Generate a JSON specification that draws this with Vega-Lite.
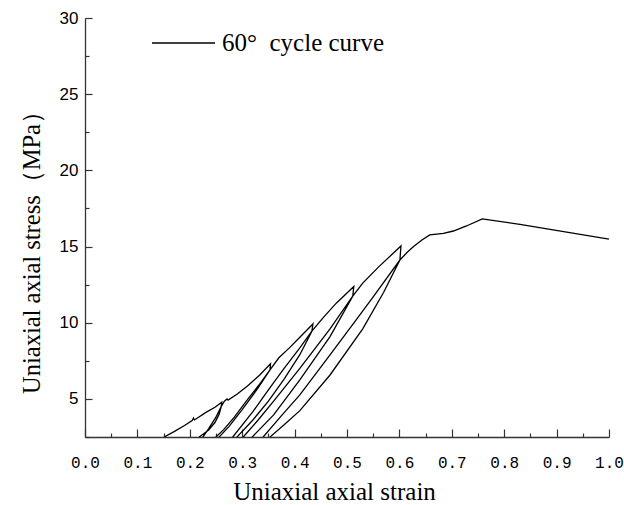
{
  "$schema": "https://vega.github.io/schema/vega-lite/v6.json",
  "width": 524,
  "height": 419,
  "autosize": "none",
  "padding": {"left": 85, "top": 18, "right": 15, "bottom": 68},
  "background": "white",
  "config": {"view": {"stroke": null}},
  "data": {"values": [
    {"i": 1, "strain": 0.151, "stress": 2.5},
    {"i": 2, "strain": 0.17, "stress": 2.85},
    {"i": 3, "strain": 0.19, "stress": 3.25},
    {"i": 4, "strain": 0.205, "stress": 3.6},
    {"i": 5, "strain": 0.207, "stress": 3.75},
    {"i": 6, "strain": 0.209, "stress": 3.62},
    {"i": 7, "strain": 0.23, "stress": 4.1},
    {"i": 8, "strain": 0.248, "stress": 4.45},
    {"i": 9, "strain": 0.261, "stress": 4.78},
    {"i": 10, "strain": 0.26, "stress": 4.5},
    {"i": 11, "strain": 0.256, "stress": 4.0},
    {"i": 12, "strain": 0.248, "stress": 3.45},
    {"i": 13, "strain": 0.236, "stress": 2.95},
    {"i": 14, "strain": 0.218, "stress": 2.5},
    {"i": 15, "strain": 0.221, "stress": 1.5},
    {"i": 16, "strain": 0.225, "stress": 2.5},
    {"i": 17, "strain": 0.236, "stress": 3.05},
    {"i": 18, "strain": 0.249, "stress": 3.75},
    {"i": 19, "strain": 0.26, "stress": 4.5},
    {"i": 20, "strain": 0.266, "stress": 4.85},
    {"i": 21, "strain": 0.271, "stress": 5.0},
    {"i": 22, "strain": 0.273, "stress": 4.92},
    {"i": 23, "strain": 0.29, "stress": 5.3},
    {"i": 24, "strain": 0.31, "stress": 5.85},
    {"i": 25, "strain": 0.333, "stress": 6.55},
    {"i": 26, "strain": 0.354, "stress": 7.3},
    {"i": 27, "strain": 0.353, "stress": 6.9},
    {"i": 28, "strain": 0.335, "stress": 6.05},
    {"i": 29, "strain": 0.31, "stress": 4.95},
    {"i": 30, "strain": 0.285, "stress": 3.8},
    {"i": 31, "strain": 0.265, "stress": 3.0},
    {"i": 32, "strain": 0.25, "stress": 2.5},
    {"i": 33, "strain": 0.253, "stress": 1.5},
    {"i": 34, "strain": 0.256, "stress": 2.5},
    {"i": 35, "strain": 0.275, "stress": 3.2},
    {"i": 36, "strain": 0.3, "stress": 4.3},
    {"i": 37, "strain": 0.33, "stress": 5.7},
    {"i": 38, "strain": 0.353, "stress": 6.9},
    {"i": 39, "strain": 0.37, "stress": 7.7},
    {"i": 40, "strain": 0.39, "stress": 8.35},
    {"i": 41, "strain": 0.41, "stress": 9.05},
    {"i": 42, "strain": 0.435, "stress": 9.92},
    {"i": 43, "strain": 0.433, "stress": 9.45},
    {"i": 44, "strain": 0.41, "stress": 8.35},
    {"i": 45, "strain": 0.38, "stress": 7.0},
    {"i": 46, "strain": 0.35, "stress": 5.6},
    {"i": 47, "strain": 0.32, "stress": 4.15},
    {"i": 48, "strain": 0.282, "stress": 2.5},
    {"i": 49, "strain": 0.286, "stress": 1.5},
    {"i": 50, "strain": 0.29, "stress": 2.5},
    {"i": 51, "strain": 0.32, "stress": 3.6},
    {"i": 52, "strain": 0.35, "stress": 4.85},
    {"i": 53, "strain": 0.38, "stress": 6.3},
    {"i": 54, "strain": 0.41, "stress": 7.9},
    {"i": 55, "strain": 0.433, "stress": 9.45},
    {"i": 56, "strain": 0.455, "stress": 10.35},
    {"i": 57, "strain": 0.48, "stress": 11.3},
    {"i": 58, "strain": 0.513, "stress": 12.38},
    {"i": 59, "strain": 0.511, "stress": 11.75},
    {"i": 60, "strain": 0.4676, "stress": 9.6},
    {"i": 61, "strain": 0.41, "stress": 7.0},
    {"i": 62, "strain": 0.36, "stress": 4.85},
    {"i": 63, "strain": 0.33, "stress": 3.6},
    {"i": 64, "strain": 0.302, "stress": 2.5},
    {"i": 65, "strain": 0.31, "stress": 1.5},
    {"i": 66, "strain": 0.319, "stress": 2.5},
    {"i": 67, "strain": 0.36, "stress": 3.95},
    {"i": 68, "strain": 0.41, "stress": 6.25},
    {"i": 69, "strain": 0.4676, "stress": 9.09},
    {"i": 70, "strain": 0.511, "stress": 11.75},
    {"i": 71, "strain": 0.53, "stress": 12.6},
    {"i": 72, "strain": 0.56, "stress": 13.65},
    {"i": 73, "strain": 0.603, "stress": 15.04},
    {"i": 74, "strain": 0.601, "stress": 14.12},
    {"i": 75, "strain": 0.55, "stress": 11.7},
    {"i": 76, "strain": 0.515, "stress": 10.07},
    {"i": 77, "strain": 0.4676, "stress": 7.89},
    {"i": 78, "strain": 0.41, "stress": 5.26},
    {"i": 79, "strain": 0.375, "stress": 3.9},
    {"i": 80, "strain": 0.34, "stress": 2.5},
    {"i": 81, "strain": 0.346, "stress": 1.5},
    {"i": 82, "strain": 0.353, "stress": 2.5},
    {"i": 83, "strain": 0.38, "stress": 3.3},
    {"i": 84, "strain": 0.41, "stress": 4.23},
    {"i": 85, "strain": 0.4676, "stress": 6.57},
    {"i": 86, "strain": 0.53, "stress": 9.6},
    {"i": 87, "strain": 0.57, "stress": 12.0},
    {"i": 88, "strain": 0.601, "stress": 14.12},
    {"i": 89, "strain": 0.615, "stress": 14.62},
    {"i": 90, "strain": 0.627, "stress": 15.0},
    {"i": 91, "strain": 0.643, "stress": 15.43},
    {"i": 92, "strain": 0.658, "stress": 15.76},
    {"i": 93, "strain": 0.684, "stress": 15.87},
    {"i": 94, "strain": 0.703, "stress": 16.02},
    {"i": 95, "strain": 0.728, "stress": 16.35},
    {"i": 96, "strain": 0.758, "stress": 16.81},
    {"i": 97, "strain": 0.83, "stress": 16.46},
    {"i": 98, "strain": 1.0, "stress": 15.48}
  ]},
  "mark": {"type": "line", "clip": true, "strokeWidth": 1.3},
  "encoding": {
    "x": {
      "field": "strain", "type": "quantitative",
      "scale": {"domain": [0, 1], "nice": false, "zero": false},
      "axis": {
        "title": "Uniaxial axial strain",
        "values": [0, 0.05, 0.1, 0.15, 0.2, 0.25, 0.3, 0.35, 0.4, 0.45, 0.5, 0.55, 0.6, 0.65, 0.7, 0.75, 0.8, 0.85, 0.9, 0.95, 1],
        "labelExpr": "round(datum.value*20)%2==0 ? format(datum.value, '.1f') : ''",
        "grid": false,
        "domainColor": "#333", "tickColor": "#333", "domainWidth": 1.3, "tickWidth": 1.2,
        "tickSize": {"condition": {"test": "round(datum.value*20)%2==0", "value": -8}, "value": -4},
        "labelPadding": 25,
        "labelFont": "Liberation Mono", "labelFontSize": 16, "labelColor": "#000",
        "labelFlush": false, "labelOverlap": false,
        "titleFont": "Liberation Serif", "titleFontSize": 25, "titleFontWeight": "normal", "titleColor": "#000",
        "titleBaseline": "alphabetic", "titleY": 62, "titleX": 249
      }
    },
    "y": {
      "field": "stress", "type": "quantitative",
      "scale": {"domain": [2.5, 30], "nice": false, "zero": false},
      "axis": {
        "title": "Uniaxial axial stress（MPa）",
        "values": [2.5, 5, 7.5, 10, 12.5, 15, 17.5, 20, 22.5, 25, 27.5, 30],
        "labelExpr": "datum.value % 5 == 0 ? format(datum.value, 'd') : ''",
        "grid": false,
        "domainColor": "#333", "tickColor": "#333", "domainWidth": 1.3, "tickWidth": 1.2,
        "tickSize": {"condition": {"test": "datum.value % 5 == 0", "value": -7}, "value": -4},
        "labelPadding": 14,
        "labelFont": "Liberation Sans", "labelFontSize": 17, "labelColor": "#000",
        "labelFlush": false, "labelOverlap": false,
        "titleFont": "Liberation Serif", "titleFontSize": 24.5, "titleFontWeight": "normal", "titleColor": "#000",
        "titleBaseline": "alphabetic", "titleX": -46, "titleY": 228, "titleAngle": -90
      }
    },
    "color": {
      "datum": "60°\u00a0\u00a0cycle curve", "type": "nominal",
      "scale": {"range": ["#000"]},
      "legend": {
        "title": null, "orient": "none", "legendX": 66, "legendY": -7.5,
        "padding": 0, "symbolType": "stroke", "symbolSize": 3969, "symbolStrokeWidth": 1.5,
        "labelFont": "Liberation Serif", "labelFontSize": 25, "labelColor": "#000", "labelOffset": 6, "labelLimit": 400
      }
    },
    "order": {"field": "i", "type": "quantitative"}
  }
}
